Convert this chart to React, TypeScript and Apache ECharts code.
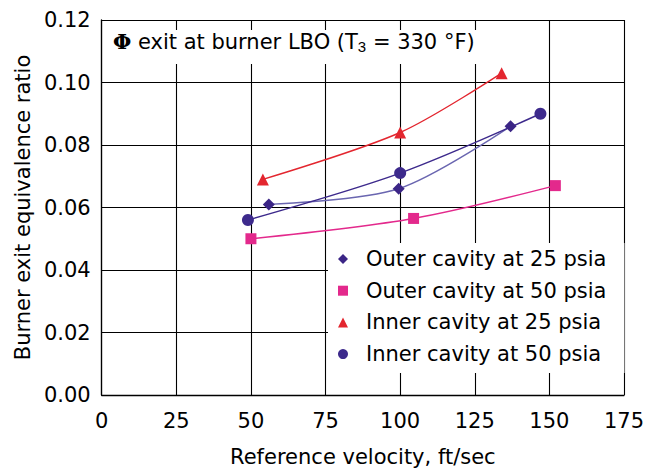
import React, { useEffect, useRef } from "react";
import * as echarts from "echarts";

// Reference velocity (ft/sec) and burner exit equivalence ratio for each case
const velOuter25 = [56, 99.5, 137];
const phiOuter25 = [0.061, 0.066, 0.086];
const velOuter50 = [50, 104.5, 152];
const phiOuter50 = [0.05, 0.0565, 0.067];
const velInner25 = [54, 100, 134];
const phiInner25 = [0.069, 0.084, 0.103];
const velInner50 = [49, 100, 147];
const phiInner50 = [0.056, 0.071, 0.09];

const seriesNames = [
  "Outer cavity at 25 psia",
  "Outer cavity at 50 psia",
  "Inner cavity at 25 psia",
  "Inner cavity at 50 psia",
];
const xTicks = [0, 25, 50, 75, 100, 125, 150, 175];
const yTicks = [0, 0.02, 0.04, 0.06, 0.08, 0.1, 0.12];

const FONT = "DejaVu Sans";

function pairs(xs: number[], ys: number[]) {
  return xs.map((x, i) => [x, ys[i]]);
}

export default function App() {
  const ref = useRef<HTMLDivElement>(null);
  useEffect(() => {
    if (!ref.current) return;
    const chart = echarts.init(ref.current, null, { renderer: "svg" });
    const mk = (
      name: string,
      data: number[][],
      symbol: string,
      markColor: string,
      lineColor: string,
      size: number
    ) => ({
      name,
      type: "line",
      data,
      smooth: 0.3,
      symbol,
      symbolSize: size,
      showAllSymbol: true,
      itemStyle: { color: markColor },
      lineStyle: { color: lineColor, width: 1.4 },
      z: 3,
    });
    chart.setOption({
      animation: false,
      backgroundColor: "#fff",
      textStyle: { fontFamily: FONT, color: "#000" },
      grid: { left: 101.7, right: 24, top: 20, bottom: 75.5 },
      xAxis: {
        type: "value",
        min: xTicks[0],
        max: xTicks[xTicks.length - 1],
        interval: 25,
        name: "Reference velocity, ft/sec",
        nameLocation: "middle",
        nameGap: 51,
        nameTextStyle: { fontSize: 21, color: "#000", fontFamily: FONT },
        axisLine: { show: true, lineStyle: { color: "#000", width: 1.3 } },
        axisTick: { show: false },
        axisLabel: { fontSize: 21, color: "#000", margin: 15, fontFamily: FONT },
        splitLine: { show: true, lineStyle: { color: "#000", width: 1.1 } },
      },
      yAxis: {
        type: "value",
        min: yTicks[0],
        max: yTicks[yTicks.length - 1],
        interval: 0.02,
        name: "Burner exit equivalence ratio",
        nameLocation: "middle",
        nameGap: 65,
        nameTextStyle: { fontSize: 21, color: "#000", fontFamily: FONT },
        axisLine: { show: true, lineStyle: { color: "#000", width: 1.3 } },
        axisTick: { show: false },
        axisLabel: {
          fontSize: 21,
          color: "#000",
          margin: 11,
          fontFamily: FONT,
          formatter: (v: number) => v.toFixed(2),
        },
        splitLine: { show: true, lineStyle: { color: "#000", width: 1.1 } },
      },
      legend: {
        orient: "vertical",
        left: 328,
        top: 243,
        backgroundColor: "#fff",
        padding: [5, 18, 8, 10],
        itemWidth: 10,
        itemHeight: 10,
        itemGap: 9.7,
        textStyle: {
          fontSize: 21,
          color: "#000",
          fontFamily: FONT,
          lineHeight: 22,
          padding: [0, 0, 0, 13],
        },
        data: [
          { name: seriesNames[0], icon: "diamond" },
          { name: seriesNames[1], icon: "rect" },
          { name: seriesNames[2], icon: "triangle" },
          { name: seriesNames[3], icon: "circle" },
        ],
        z: 10,
      },
      graphic: [
        {
          type: "rect",
          z: 50,
          shape: { x: 105, y: 30, width: 395, height: 34 },
          style: { fill: "#fff" },
        },
        {
          type: "text",
          z: 51,
          x: 113,
          y: 54,
          style: {
            text: "{phi|Φ} exit at burner LBO (T{sub|3} = 330 °F)",
            fontFamily: FONT,
            fontSize: 21,
            fill: "#000",
            verticalAlign: "bottom",
            rich: {
              phi: {
                fontFamily: "DejaVu Serif",
                fontWeight: "bold",
                fontSize: 21,
                fill: "#000",
              },
              sub: {
                fontSize: 15,
                fill: "#000",
                padding: [10, 0, 0, 0],
              },
            },
          },
        },
      ],
      series: [
        mk(seriesNames[0], pairs(velOuter25, phiOuter25), "diamond", "#3b2586", "#6a66b0", 12),
        mk(seriesNames[1], pairs(velOuter50, phiOuter50), "rect", "#e3298c", "#e3298c", 11),
        mk(seriesNames[2], pairs(velInner25, phiInner25), "triangle", "#e3262f", "#e3262f", 12),
        mk(seriesNames[3], pairs(velInner50, phiInner50), "circle", "#3d2a8c", "#3d2a8c", 12),
      ],
    });
    return () => chart.dispose();
  }, []);
  return (
    <div
      ref={ref}
      style={{ position: "fixed", left: 0, top: 0, width: 648, height: 472 }}
    />
  );
}
